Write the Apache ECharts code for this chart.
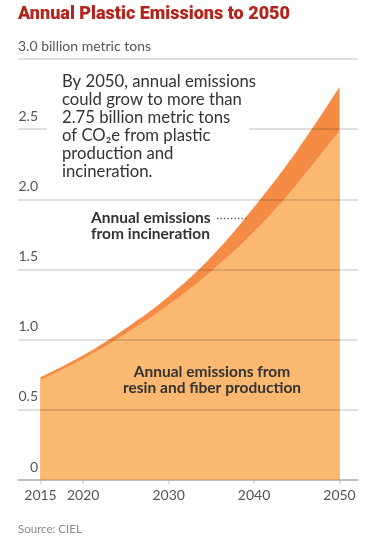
<!DOCTYPE html>
<html>
<head>
<meta charset="utf-8">
<script src="https://cdn.jsdelivr.net/npm/echarts@6/dist/echarts.min.js"></script>
<style>
html,body{margin:0;padding:0;background:#fff;}
#c{width:382px;height:547px;}
</style>
</head>
<body>
<div id="c"></div>
<script>
// Data (billion metric tons CO2e)
const years = [2015, 2020, 2025, 2030, 2035, 2040, 2045, 2050];
const resin = [0.712, 0.865, 1.045, 1.25, 1.49, 1.77, 2.11, 2.49];
const incineration = [0.02, 0.024, 0.037, 0.058, 0.1, 0.175, 0.235, 0.31];
const xTickLabels = [2015, 2020, 2030, 2040, 2050];
const yTicks = [0, 0.5, 1.0, 1.5, 2.0, 2.5, 3.0];

const FONT = 'Lato';
const chart = echarts.init(document.getElementById('c'), null, {renderer: 'canvas'});

const resinData = years.map((y, i) => [y, resin[i]]);
const totalData = years.map((y, i) => [y, +(resin[i] + incineration[i]).toFixed(4)]);

const pxPerYear = 299 / 35;
chart.setOption({
  animation: false,
  grid: {left: 18, right: 24, top: 59, bottom: 67, containLabel: false},
  xAxis: {
    type: 'value',
    min: 2015 - 22.5 / pxPerYear,
    max: 2050 + 18.5 / pxPerYear,
    splitLine: {show: false},
    axisLine: {show: true, lineStyle: {color: '#cfcfcf', width: 1.5}},
    axisTick: {show: true, customValues: xTickLabels, length: 4, lineStyle: {color: '#cfcfcf', width: 1.5}},
    axisLabel: {customValues: xTickLabels, formatter: v => String(v), color: '#555', fontFamily: FONT, fontSize: 14, margin: 8}
  },
  yAxis: {
    type: 'value',
    min: 0, max: 3, interval: 0.5,
    z: 5,
    axisLine: {show: false},
    axisTick: {show: false},
    splitLine: {show: true, lineStyle: {color: 'rgba(0,0,0,0.17)', width: 1.5}},
    axisLabel: {
      inside: true, margin: 20, align: 'right', verticalAlign: 'bottom',
      padding: [0, 0, 6, 0],
      color: '#555', fontFamily: FONT, fontSize: 14,
      formatter: v => v === 0 ? '0' : (v >= 3 ? '' : v.toFixed(1))
    }
  },
  series: [
    {
      name: 'Total (incl. incineration)', type: 'line', data: totalData,
      smooth: 0.4, symbol: 'none', lineStyle: {width: 0}, z: 2,
      areaStyle: {color: '#f58c45', opacity: 1}
    },
    {
      name: 'Resin and fiber production', type: 'line', data: resinData,
      smooth: 0.4, symbol: 'none', lineStyle: {width: 0}, z: 3,
      areaStyle: {color: '#fbb870', opacity: 1}
    }
  ],
  graphic: [
    {type: 'text', z: 100, style: {x: 18, y: 14, text: 'Annual Plastic Emissions to 2050', fill: '#b3241c',
      font: '900 18px Roboto', verticalAlign: 'middle'}},
    {type: 'text', z: 100, style: {x: 18, y: 46, text: '3.0 billion metric tons', fill: '#555',
      font: '14px ' + FONT, verticalAlign: 'middle'}},
    {type: 'rect', z: 90, shape: {x: 47, y: 66, width: 202, height: 120}, style: {fill: '#fff'}},
    {type: 'text', z: 100, style: {x: 62, y: 73, text: 'By 2050, annual emissions\ncould grow to more than\n2.75 billion metric tons\nof CO₂e from plastic\nproduction and\nincineration.',
      fill: '#333', font: '16.7px ' + FONT, lineHeight: 18, verticalAlign: 'top'}},
    {type: 'text', z: 100, style: {x: 91, y: 209.5, text: 'Annual emissions\nfrom incineration', fill: '#333',
      font: 'bold 15.5px ' + FONT, lineHeight: 16.5, verticalAlign: 'top'}},
    {type: 'line', z: 100, shape: {x1: 217, y1: 218.5, x2: 248, y2: 218.5}, style: {stroke: '#555', lineWidth: 1.3, lineDash: [1.3, 2.2]}},
    {type: 'text', z: 100, style: {x: 212, y: 363.5, text: 'Annual emissions from\nresin and fiber production', fill: '#333',
      font: 'bold 15.5px ' + FONT, lineHeight: 16.5, align: 'center', verticalAlign: 'top'}},
    {type: 'text', z: 100, style: {x: 18, y: 529, text: 'Source: CIEL', fill: '#888',
      font: '11.5px ' + FONT, verticalAlign: 'middle'}}
  ]
});
</script>
</body>
</html>
